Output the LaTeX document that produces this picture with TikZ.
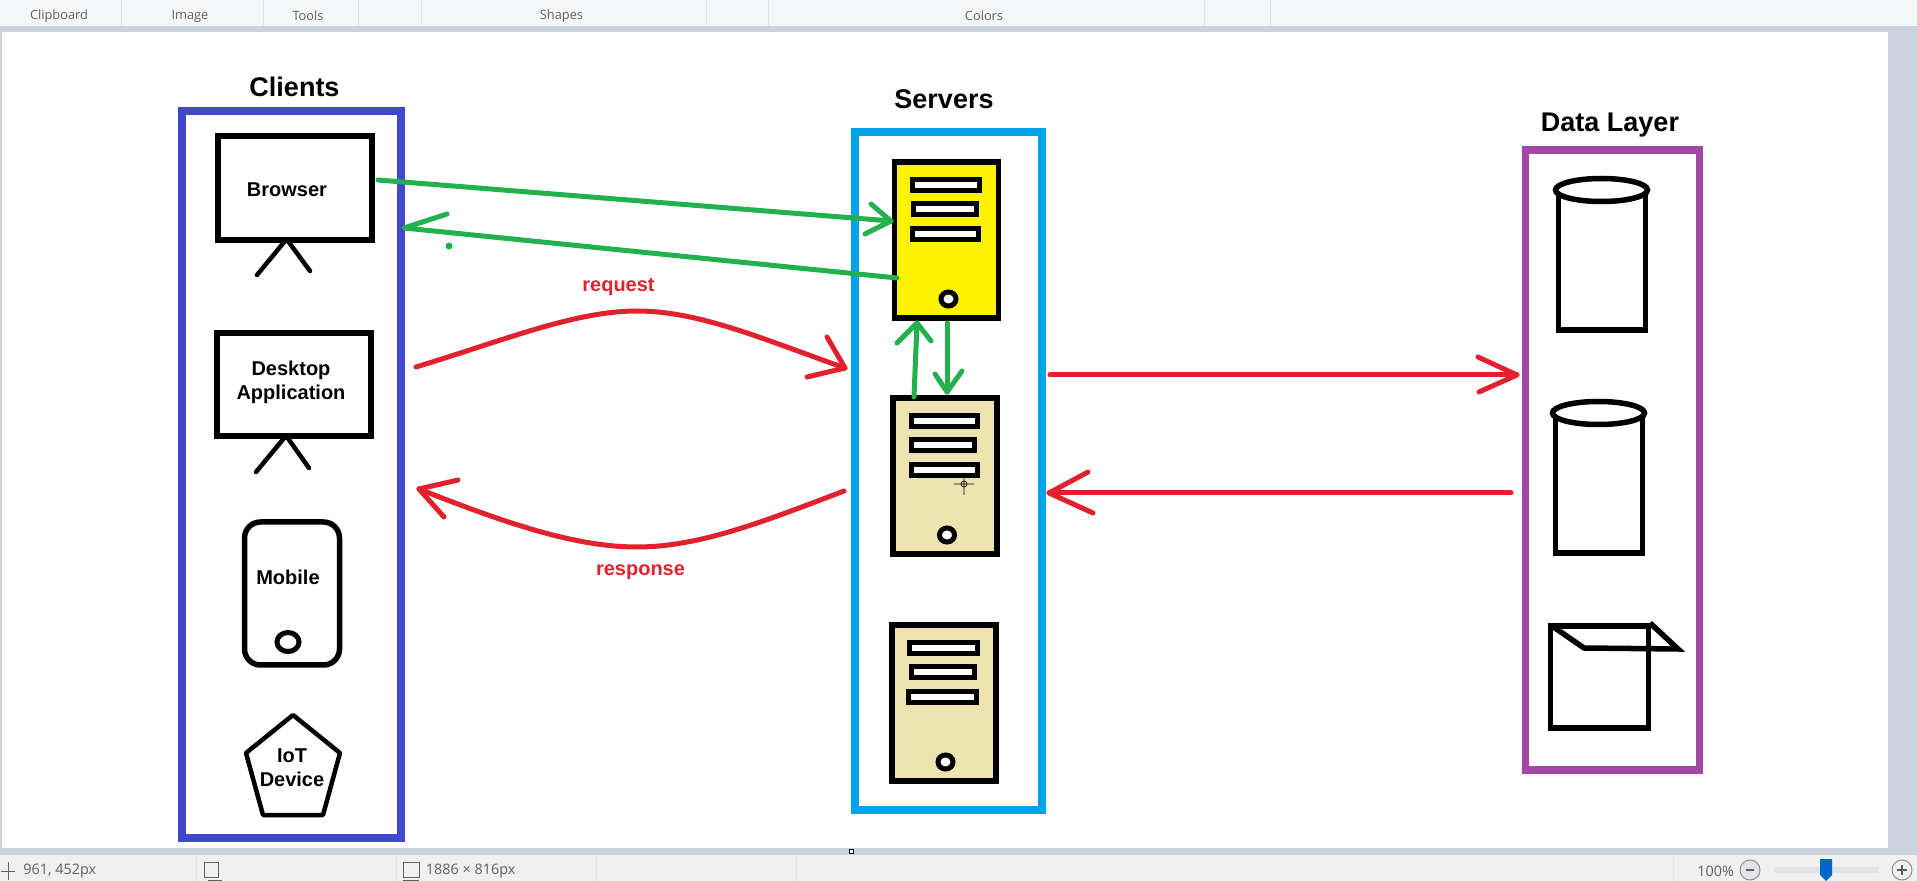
\documentclass[tikz,border=0pt]{standalone}
\usepackage{fontspec}
\setmainfont{Liberation Sans}
\newfontfamily\chromefont{Open Sans}
\usetikzlibrary{shapes.geometric}
\definecolor{chromegray}{HTML}{F5F6F7}
\definecolor{chromeband}{HTML}{CCD3DF}
\definecolor{chromeline}{HTML}{E2E4E7}
\definecolor{chrometext}{HTML}{5F5F5F}
\definecolor{statusgray}{HTML}{F0F0F0}
\definecolor{clientblue}{HTML}{3F48CC}
\definecolor{servercyan}{HTML}{00A2E8}
\definecolor{datapurple}{HTML}{A349A4}
\definecolor{activeyellow}{HTML}{FFF200}
\definecolor{idletan}{HTML}{EFE4B0}
\definecolor{flowgreen}{HTML}{22B14C}
\definecolor{flowred}{HTML}{E1222E}
\tikzset{
  frame/.style={draw, line width=3.75pt, inner sep=0pt},
  title/.style={font=\fontsize{13.5}{16}\selectfont\bfseries},
  device/.style={draw, line width=2.75pt, inner sep=0pt, align=center, fill=white},
  tiny text/.style={font=\fontsize{10}{12}\selectfont\bfseries, align=center, inner sep=0pt},
  legline/.style={line width=2.25pt, line cap=round},
  outline/.style={line width=2.75pt, line join=miter},
  tower/.style={draw, line width=2.75pt, inner sep=0pt, minimum width=52pt, minimum height=78pt},
  slotbar/.style={draw, line width=2.5pt, fill=white, inner sep=0pt, minimum height=5.5pt},
  knob/.style={draw, line width=2.5pt, fill=white, ellipse, inner sep=0pt},
  greenflow/.style={draw=flowgreen, line width=2.5pt, line cap=round, line join=round},
  redflow/.style={draw=flowred, line width=2.5pt, line cap=round, line join=round},
  redlabel/.style={tiny text, text=flowred},
  chromelabel/.style={font=\chromefont\fontsize{6.4}{8}\selectfont, text=chrometext, inner sep=0pt},
  statuslabel/.style={font=\chromefont\fontsize{7.2}{9}\selectfont, text=chrometext, inner sep=0pt},
}
\begin{document}
\begin{tikzpicture}[x=.5pt, y=-.5pt]
\useasboundingbox (0,0) rectangle (1917,881);
% window chrome
\fill[chromeband] (0,0) rectangle (1917,881);
\fill[chromegray] (0,0) rectangle (1917,26);
\fill[statusgray] (0,855) rectangle (1917,881);
\fill[white] (2,32) rectangle (1888,848);
\foreach \x in {121,263,358,421,706,768,1204,1270}
  \draw[chromeline, line width=.5pt] (\x,0) -- (\x,26);
\foreach \x in {196,396,596,796,1673}
  \draw[chromeline, line width=.5pt] (\x,855) -- (\x,881);
\node[chromelabel] (clipboard) at (59,16) {Clipboard};
\node[chromelabel] (image) at (190,16) {Image};
\node[chromelabel] (tools) at (308,16) {Tools};
\node[chromelabel] (shapes) at (561.5,16) {Shapes};
\node[chromelabel] (colors) at (984,16) {Colors};
\node[statuslabel, anchor=west] (cursorpos) at (23,871) {961, 452px};
\node[statuslabel, anchor=west] (canvassize) at (425.5,871) {1886 × 816px};
\node[statuslabel, anchor=west] (zoomlevel) at (1697,871) {100\%};
% status icons
\draw[chrometext, line width=.5pt] (1,871) -- (15,871) (8,862) -- (8,880);
\draw[chrometext, line width=.5pt] (204,862) rectangle (218,877) (208,880) -- (222,880);
\draw[chrometext, line width=.5pt] (403,862) rectangle (419,877) (403,880) -- (419,880);
\draw[chrometext!70, line width=.5pt, fill=chromeline] (1750,870) circle (10);
\draw[chrometext, line width=.6pt] (1746,870) -- (1754,870);
\draw[chrometext!70, line width=.5pt] (1902,870) circle (10);
\draw[chrometext, line width=.6pt] (1897,870) -- (1907,870) (1902,865) -- (1902,875);
\fill[chromeline] (1774,867) rectangle (1879,873);
\fill[blue!50!cyan!80!black] (1820,859) -- (1832,859) -- (1832,875) -- (1826,881) -- (1820,875) -- cycle;
% canvas handles
\foreach \x/\y in {1890,850/1890,440/944,851}
  \draw[black, fill=white, line width=.4pt] (\x-2,\y-2) rectangle (\x+2,\y+2);
% clients
\node[frame, draw=clientblue, minimum width=109.5pt, minimum height=363.5pt] (clients) at (291.5,474.5) {};
\node[title] (clientstitle) at (294.5,87) {Clients};
\node[device, minimum width=77pt, minimum height=52pt] (browser) at (295,188) {};
\node[tiny text] (browserlabel) at (287,189.5) {Browser};
\draw[legline] (285,241) -- (257,275);
\draw[legline] (288,241) -- (310,271);
\node[device, minimum width=77pt, minimum height=51.5pt] (desktop) at (294,384.5) {};
\node[tiny text] (desktoplabel) at (291,382) {Desktop\\Application};
\draw[legline] (285,437) -- (256,472);
\draw[legline] (287,437) -- (309,468);
\node[device, rounded corners=8pt, minimum width=47.5pt, minimum height=71.5pt] (mobile) at (292,593.5) {};
\node[tiny text] (mobilelabel) at (288,577) {Mobile};
\node[knob, minimum width=11pt, minimum height=9.5pt] (mobileknob) at (288,642) {};
\draw[outline, line width=2.25pt, line join=round] (293,715) -- (340,753) -- (323,815) -- (263,815) -- (246,753) -- cycle;
\node[tiny text] (iotlabel) at (292,768) {IoT\\Device};
% servers
\node[frame, draw=servercyan, minimum width=93.5pt, minimum height=339pt] (servers) at (948.5,471) {};
\node[title] (serverstitle) at (944,99) {Servers};
\node[tower, fill=activeyellow] (webserver) at (946.5,240) {};
\node[tower, fill=idletan] (appserver) at (945,476) {};
\node[tower, fill=idletan] (spareserver) at (944,703) {};
\foreach \n/\cx/\cy/\w in {a/946/185/33.5, b/945/209/31.5, c/945.5/234/33,
    d/944/421/33, e/942.5/445/31.5, f/944/470/33,
    g/943/648/34, h/942.5/672/31.5, i/942/697/34}
  \node[slotbar, minimum width=\w pt] (slot\n) at (\cx,\cy) {};
\node[knob, minimum width=7.5pt, minimum height=7pt] (webknob) at (948.5,299) {};
\node[knob, minimum width=7.5pt, minimum height=7pt] (appknob) at (947,535) {};
\node[knob, minimum width=7.5pt, minimum height=7pt] (spareknob) at (945.5,762) {};
\draw[black, line width=.3pt] (964,473) -- (964,495) (954,484) -- (974,484) (964,484) circle (3);
% data layer
\node[frame, draw=datapurple, minimum width=87pt, minimum height=310pt] (datalayer) at (1612.5,460) {};
\node[title] (datatitle) at (1610,125) {Data Layer};
\draw[outline] (1558.5,190) -- (1558.5,330) -- (1645.5,330) -- (1645.5,190);
\node[knob, line width=2.75pt, minimum width=46pt, minimum height=11.5pt] (firstdb) at (1601.5,190) {};
\draw[outline] (1555.5,413) -- (1555.5,553) -- (1642.5,553) -- (1642.5,413);
\node[knob, line width=2.75pt, minimum width=46pt, minimum height=11.5pt] (seconddb) at (1598.5,413) {};
\node[draw, line width=2.75pt, inner sep=0pt, minimum width=49pt, minimum height=51pt] (filebox) at (1599.5,677) {};
\draw[outline] (1553.5,627) -- (1584,648) -- (1678,649) -- (1650,623);
% flows
\coordinate (browserout) at (378,180);
\coordinate (webin) at (891,221);
\coordinate (webout) at (897,278);
\coordinate (browserin) at (404,228);
\coordinate (appup) at (914,397);
\coordinate (webdown) at (917,323);
\coordinate (webdrop) at (947,323);
\coordinate (appdown) at (947,392);
\coordinate (reqstart) at (416,367);
\coordinate (reqend) at (845,368);
\coordinate (respstart) at (844,491);
\coordinate (respend) at (419,489);
\coordinate (dataout) at (1050,375);
\coordinate (datain) at (1517,375);
\coordinate (databack) at (1511,493);
\coordinate (serverin) at (1049,493);
\draw[greenflow] (browserout) -- (webin);
\draw[greenflow] (871,204) -- (webin) -- (865,234);
\draw[greenflow] (webout) -- (browserin) -- (447,214);
\fill[flowgreen] (449,246) circle (3.5);
\draw[greenflow] (appup) -- (webdown);
\draw[greenflow] (897,343) -- (webdown) -- (931,341);
\draw[greenflow] (webdrop) -- (appdown);
\draw[greenflow] (935,374) -- (appdown) -- (962,371);
\draw[redflow] (reqstart) .. controls (505,340) and (575,311) .. (637,311) .. controls (700,311) and (765,340) .. (reqend);
\draw[redflow] (827,337) -- (reqend) -- (807,377);
\node[redlabel] (requestlabel) at (618.5,287) {request};
\draw[redflow] (respstart) .. controls (765,521) and (700,547) .. (637,547) .. controls (575,547) and (505,523) .. (respend);
\draw[redflow] (458,480) -- (respend) -- (444,517);
\node[redlabel] (responselabel) at (640.5,572) {response};
\draw[redflow] (dataout) -- (datain);
\draw[redflow] (1478,357) -- (datain) -- (1479,392);
\draw[redflow] (databack) -- (serverin);
\draw[redflow] (1088,472) -- (serverin) -- (1093,513);
\end{tikzpicture}
\end{document}
